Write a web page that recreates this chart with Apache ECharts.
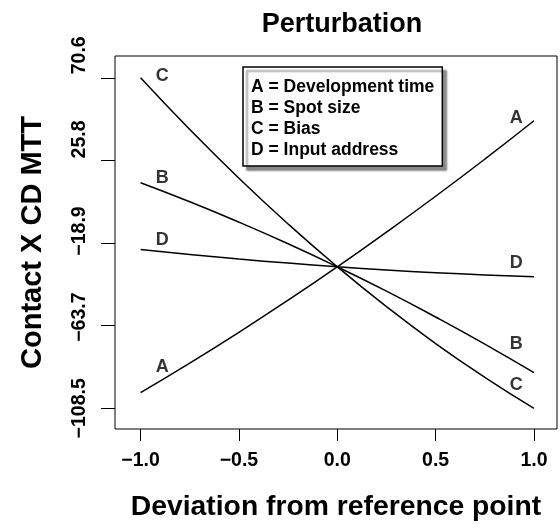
<!DOCTYPE html>
<html>
<head>
<meta charset="utf-8">
<script src="https://cdn.jsdelivr.net/npm/echarts@6/dist/echarts.min.js"></script>
<style>
  html, body { margin: 0; padding: 0; background: #fff; }
  #chart { width: 560px; height: 529px; }
</style>
</head>
<body>
<div id="chart"></div>
<script>
// Deviation levels along the x axis
const deviation = [-1, -0.75, -0.5, -0.25, 0, 0.25, 0.5, 0.75, 1];

// Response of Contact X CD MTT to each factor
const devTime   = [-100.0, -84.0, -67.3, -49.9, -31.8, -13.0, 6.4, 26.5, 47.3];
const spotSize  = [13.7, 3.4, -7.6, -19.3, -31.8, -45.0, -59.0, -73.7, -89.2];
const bias      = [70.6, 42.6, 16.2, -8.6, -31.8, -53.4, -73.4, -91.7, -108.5];
const inputAddr = [-22.4, -25.1, -27.6, -29.8, -31.8, -33.5, -35.0, -36.2, -37.2];

const seriesNames = ['A = Development time', 'B = Spot size', 'C = Bias', 'D = Input address'];

// Letter tags placed beside both ends of each curve: [x, y, letter]
const tags = [
  [-0.89, 71.5, 'C'], [-0.89, 16.3, 'B'], [-0.89, -17.3, 'D'], [-0.89, -86.0, 'A'],
  [0.91, 48.6, 'A'], [0.91, -29.6, 'D'], [0.91, -73.7, 'B'], [0.91, -95.9, 'C']
];

// Tick positions
const xTicks = [-1, -0.5, 0, 0.5, 1];
const yTicks = [-108.5, -63.7, -18.9, 25.8, 70.6];

const FONT = 'Liberation Sans';
const minus = v => (v < 0 ? '\u2212' + Math.abs(v).toFixed(1) : v.toFixed(1));

// y labels sit flush toward the top: shorter labels get extra lead space
const yLabelLead = { '-108.5': 0, '-63.7': 17, '-18.9': 24, '25.8': 42, '70.6': 45 };
const labelFont = { fontFamily: FONT, fontWeight: 'bold', fontSize: 19.5, color: '#000' };
const yRich = {};
Object.keys(yLabelLead).forEach((k, i) => {
  yRich['y' + i] = Object.assign({ padding: [0, 0, 0, yLabelLead[k]] }, labelFont);
});
const yKeys = Object.keys(yLabelLead);

function lineSeries(name, values) {
  return {
    name: name,
    type: 'line',
    data: deviation.map((x, i) => [x, values[i]]),
    smooth: true,
    showSymbol: false,
    symbol: 'none',
    lineStyle: { color: '#000', width: 1.5 },
    itemStyle: { color: '#000' },
    silent: true
  };
}

const chart = echarts.init(document.getElementById('chart'), null, { renderer: 'canvas' });

chart.setOption({
  animation: false,
  backgroundColor: '#fff',
  title: {
    text: 'Perturbation',
    left: 337,
    top: 6,
    textAlign: 'center',
    textStyle: { fontFamily: FONT, fontWeight: 'bold', fontSize: 27, color: '#000' }
  },
  grid: {
    left: 115, right: 3, top: 56, bottom: 100,
    show: true, borderColor: '#000', borderWidth: 1, backgroundColor: 'transparent'
  },
  legend: {
    data: seriesNames,
    orient: 'vertical',
    left: 243,
    top: 67,
    icon: 'none',
    itemWidth: 0,
    itemHeight: 1,
    itemGap: 1,
    selectedMode: false,
    backgroundColor: '#fff',
    borderColor: '#000',
    borderWidth: 1.5,
    borderRadius: 0,
    padding: [10, 8, 6, 3],
    shadowColor: 'rgba(0,0,0,0.45)',
    shadowBlur: 2,
    shadowOffsetX: 4,
    shadowOffsetY: 4,
    textStyle: { fontFamily: FONT, fontWeight: 'bold', fontSize: 17.5, color: '#000', lineHeight: 20 }
  },
  xAxis: {
    type: 'value',
    min: -1.13,
    max: 1.117,
    name: 'Deviation from reference point',
    nameLocation: 'middle',
    nameGap: 64,
    nameTextStyle: { fontFamily: FONT, fontWeight: 'bold', fontSize: 28.3, color: '#000' },
    axisLine: { show: false, onZero: false },
    splitLine: { show: false },
    axisTick: { show: true, inside: false, length: 12, customValues: xTicks, lineStyle: { color: '#000', width: 1 } },
    axisLabel: Object.assign({
      customValues: xTicks,
      margin: 22,
      formatter: minus
    }, labelFont)
  },
  yAxis: {
    type: 'value',
    min: -119.7,
    max: 82.4,
    name: 'Contact X CD MTT',
    nameLocation: 'middle',
    nameRotate: 90,
    nameGap: 68,
    nameTextStyle: { fontFamily: FONT, fontWeight: 'bold', fontSize: 29, color: '#000' },
    axisLine: { show: false, onZero: false },
    splitLine: { show: false },
    axisTick: { show: true, inside: false, length: 14, customValues: yTicks, lineStyle: { color: '#000', width: 1 } },
    axisLabel: Object.assign({
      customValues: yTicks,
      rotate: 90,
      margin: 25,
      formatter: v => {
        const i = yKeys.indexOf(String(v));
        return i >= 0 ? '{y' + i + '|' + minus(v) + '}' : minus(v);
      },
      rich: yRich
    }, labelFont)
  },
  series: [
    lineSeries(seriesNames[0], devTime),
    lineSeries(seriesNames[1], spotSize),
    lineSeries(seriesNames[2], bias),
    lineSeries(seriesNames[3], inputAddr),
    {
      name: 'tags',
      type: 'scatter',
      symbolSize: 0,
      silent: true,
      data: tags.map(t => ({ value: [t[0], t[1]], tag: t[2] })),
      label: {
        show: true,
        position: 'inside',
        formatter: p => p.data.tag,
        fontFamily: FONT, fontWeight: 'bold', fontSize: 18, color: '#000'
      }
    }
  ]
});
</script>
</body>
</html>
